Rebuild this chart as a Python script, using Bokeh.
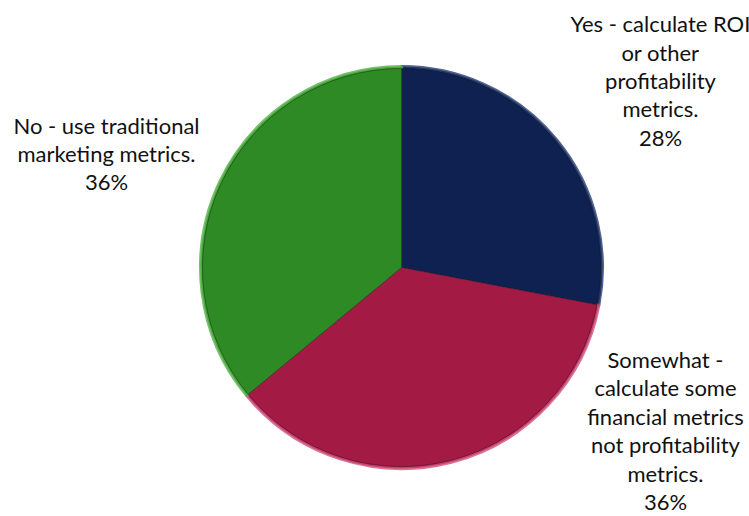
import math
from bokeh.plotting import figure
from bokeh.models import ColumnDataSource
from bokeh.core.properties import value
from bokeh.embed import file_html
from bokeh.resources import INLINE

# ---- data ----
categories = [
    "Yes - calculate ROI\nor other\nprofitability\nmetrics.",
    "Somewhat -\ncalculate some\nfinancial metrics\nnot profitability\nmetrics.",
    "No - use traditional\nmarketing metrics.",
]
shares = [28, 36, 36]
colors = ["#0f2150", "#a31b45", "#2e8a24"]
edge_colors = ["#2a3d70", "#d0507a", "#55b048"]

# ---- geometry (layout only) ----
W, H = 749, 516
cx, cy, r = 401, H - 267, 201
label_pos = [(660, H - 80), (665, H - 430), (106, H - 153)]

total = float(sum(shares))
starts, ends = [], []
acc = 0.0
for s in shares:
    a0 = math.pi / 2 - 2 * math.pi * acc / total
    acc += s
    a1 = math.pi / 2 - 2 * math.pi * acc / total
    starts.append(a0)
    ends.append(a1)

src = ColumnDataSource(dict(
    start=starts, end=ends, color=colors, edge=edge_colors,
    x=[cx] * 3, y=[cy] * 3,
))

p = figure(width=W, height=H, x_range=(0, W), y_range=(0, H),
           output_backend="svg", toolbar_location=None, min_border=0)
p.axis.visible = False
p.grid.visible = False
p.outline_line_color = None
p.background_fill_color = "white"

p.wedge(x="x", y="y", radius=r, start_angle="start", end_angle="end",
        direction="clock", fill_color="color", line_color="edge",
        line_width=3, line_alpha=0.8, source=src)
p.wedge(x="x", y="y", radius=r - 2, start_angle="start", end_angle="end",
        direction="clock", fill_color="color", line_color="#1a1a1a",
        line_width=1, line_alpha=0.35, source=src)

texts = [f"{c}\n{s}%" for c, s in zip(categories, shares)]
lsrc = ColumnDataSource(dict(
    x=[q[0] for q in label_pos], y=[q[1] for q in label_pos], t=texts))
p.text(x="x", y="y", text="t", source=lsrc, text_align="center",
       text_baseline="middle", text_font=value("Lato"),
       text_font_size="22px", text_color="#111111", text_line_height=1.05)

open("out.html", "w").write(file_html(p, INLINE))
